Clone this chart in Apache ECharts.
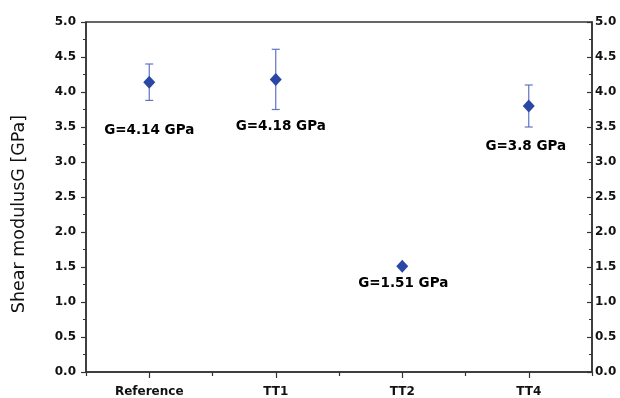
<!DOCTYPE html>
<html>
<head>
<meta charset="utf-8">
<script src="https://cdn.jsdelivr.net/npm/echarts@6/dist/echarts.min.js"></script>
<style>
  html, body { margin: 0; padding: 0; background: #fff; }
  #chart { width: 620px; height: 398px; }
</style>
</head>
<body>
<div id="chart"></div>
<script>
// Samples and measured shear modulus
const samples = ['Reference', 'TT1', 'TT2', 'TT4'];
const modulus = [4.14, 4.18, 1.51, 3.8];
const errLow = [3.88, 3.75, 1.51, 3.5];
const errHigh = [4.40, 4.61, 1.51, 4.1];
const valueLabels = ['G=4.14 GPa', 'G=4.18 GPa', 'G=1.51 GPa', 'G=3.8 GPa'];
const yTicks = [0, 0.5, 1, 1.5, 2, 2.5, 3, 3.5, 4, 4.5, 5];

// label placement relative to each marker (px)
const labelShift = [[0, 48], [5, 47], [1, 17], [-3, 40]];

const axisColor = '#333';
const markColor = '#2a47a6';
const barColor = '#5f74c4';
const boldFont = 'DejaVu Sans';

const chart = echarts.init(document.getElementById('chart'), null, { renderer: 'canvas' });

const yCommon = {
  type: 'value',
  min: yTicks[0],
  max: yTicks[yTicks.length - 1],
  interval: yTicks[1] - yTicks[0],
  splitLine: { show: false },
  axisLine: { show: true, lineStyle: { color: axisColor, width: 1.5 } },
  minorTick: { show: true, splitNumber: 2, length: 3, lineStyle: { color: axisColor, width: 1 } },
  axisLabel: {
    color: '#111', fontFamily: boldFont, fontWeight: 'bold', fontSize: 12,
    formatter: v => v.toFixed(1)
  }
};

const option = {
  backgroundColor: '#fff',
  animation: false,
  grid: {
    left: 86, right: 28, top: 22, bottom: 25,
    show: true, borderColor: axisColor, borderWidth: 1.5, backgroundColor: 'transparent'
  },
  xAxis: [
    {
      type: 'category',
      data: samples,
      boundaryGap: true,
      axisLine: { show: true, lineStyle: { color: axisColor, width: 1.5 } },
      axisTick: { show: true, alignWithLabel: true, length: 6, lineStyle: { color: axisColor, width: 1.2 } },
      axisLabel: { color: '#111', fontFamily: boldFont, fontWeight: 'bold', fontSize: 12, margin: 14 },
      splitLine: { show: false }
    },
    {
      type: 'category',
      data: samples,
      boundaryGap: true,
      position: 'bottom',
      axisLine: { show: false },
      axisTick: { show: true, length: 4, lineStyle: { color: axisColor, width: 1.2 } },
      axisLabel: { show: false },
      splitLine: { show: false }
    }
  ],
  yAxis: [
    Object.assign({}, yCommon, {
      position: 'left',
      name: 'Shear modulusG [GPa]',
      nameLocation: 'middle',
      nameGap: 58,
      nameRotate: 90,
      nameTextStyle: { color: '#111', fontFamily: 'DejaVu Sans', fontSize: 17.5, padding: [0, 34, 0, 0] },
      axisTick: { show: true, inside: false, length: 5, lineStyle: { color: axisColor, width: 1.2 } },
      axisLabel: Object.assign({}, yCommon.axisLabel, { margin: 10 })
    }),
    Object.assign({}, yCommon, {
      position: 'right',
      axisTick: { show: true, inside: true, length: 5, lineStyle: { color: axisColor, width: 1.2 } },
      minorTick: Object.assign({}, yCommon.minorTick),
      axisLabel: Object.assign({}, yCommon.axisLabel, { margin: 3 })
    })
  ],
  series: [
    {
      type: 'custom',
      name: 'error',
      xAxisIndex: 0,
      yAxisIndex: 0,
      data: samples.map((s, i) => [i, errLow[i], errHigh[i]]),
      renderItem: function (params, api) {
        const i = api.value(0);
        const lo = api.coord([i, api.value(1)]);
        const hi = api.coord([i, api.value(2)]);
        if (Math.abs(hi[1] - lo[1]) < 1) return { type: 'group', children: [] };
        const cap = 4;
        const style = { stroke: barColor, lineWidth: 1.2 };
        return {
          type: 'group',
          children: [
            { type: 'line', shape: { x1: lo[0], y1: lo[1], x2: hi[0], y2: hi[1] }, style: style },
            { type: 'line', shape: { x1: hi[0] - cap, y1: hi[1], x2: hi[0] + cap, y2: hi[1] }, style: style },
            { type: 'line', shape: { x1: lo[0] - cap, y1: lo[1], x2: lo[0] + cap, y2: lo[1] }, style: style }
          ]
        };
      },
      z: 2
    },
    {
      type: 'scatter',
      name: 'G',
      xAxisIndex: 0,
      yAxisIndex: 0,
      symbol: 'diamond',
      symbolSize: [12, 13],
      itemStyle: { color: markColor, opacity: 1 },
      data: modulus.map((v, i) => ({
        value: [i, v],
        label: {
          show: true,
          position: 'inside',
          offset: labelShift[i],
          formatter: valueLabels[i],
          color: '#000',
          opacity: 1,
          fontFamily: boldFont,
          fontWeight: 'bold',
          fontSize: 13.5
        }
      })),
      emphasis: { disabled: true },
      z: 3
    }
  ]
};

chart.setOption(option);
</script>
</body>
</html>
